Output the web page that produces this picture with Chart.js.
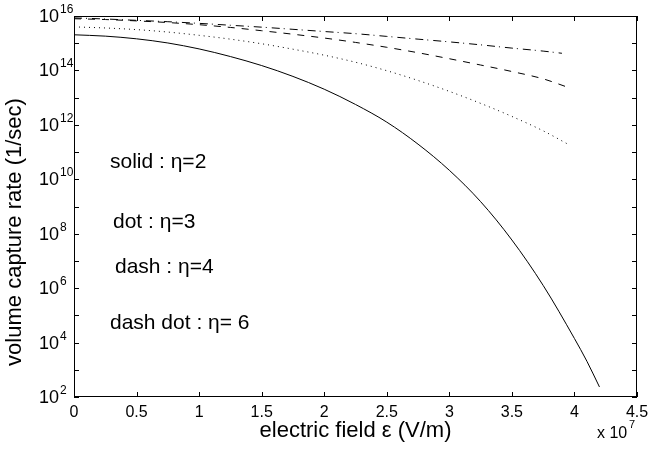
<!DOCTYPE html>
<html>
<head>
<meta charset="utf-8">
<script src="https://cdn.jsdelivr.net/npm/chart.js@4/dist/chart.umd.min.js"></script>
<style>
  html, body { margin: 0; padding: 0; background: #fff; }
  #wrap { position: relative; width: 649px; height: 453px; }
</style>
</head>
<body>
<div id="wrap"><canvas id="captureChart"></canvas></div>
<script>
// electric field, in units of 1e7 V/m (axis shows "x 10^7")
const solidX = [0, 0.25, 0.5, 0.75, 1, 1.25, 1.5, 1.75, 2, 2.25, 2.5, 2.75, 3, 3.25, 3.5, 3.75, 4, 4.1, 4.2];
const solidY = [2.04e15, 1.82e15, 1.45e15, 1.02e15, 6.17e14, 3.24e14, 1.51e14, 6.03e13, 2.04e13, 5.62e12,
                1.26e12, 1.95e11, 2.14e10, 1.51e9, 5.89e7, 1.26e6, 1.41e4, 2.04e3, 234];

const dotX = [0, 0.25, 0.5, 0.75, 1, 1.25, 1.5, 1.75, 2, 2.25, 2.5, 2.75, 3, 3.25, 3.5, 3.75, 3.96];
const dotY = [3.98e15, 3.63e15, 3.16e15, 2.57e15, 1.95e15, 1.41e15, 9.55e14, 6.03e14, 3.63e14, 2.0e14,
              9.77e13, 4.27e13, 1.70e13, 6.17e12, 2.04e12, 6.03e11, 1.82e11];

const dashX = [0, 0.25, 0.5, 0.75, 1, 1.25, 1.5, 1.75, 2, 2.25, 2.5, 2.75, 3, 3.25, 3.5, 3.75, 3.96];
const dashY = [7.94e15, 7.41e15, 6.61e15, 5.75e15, 4.79e15, 3.80e15, 2.88e15, 2.14e15, 1.55e15, 1.07e15,
               7.08e14, 4.47e14, 2.69e14, 1.58e14, 9.12e13, 4.90e13, 2.29e13];

const dashDotX = [0, 0.25, 0.5, 0.75, 1, 1.25, 1.5, 1.75, 2, 2.25, 2.5, 2.75, 3, 3.25, 3.5, 3.75, 3.9];
const dashDotY = [8.51e15, 7.76e15, 6.92e15, 6.17e15, 5.37e15, 4.57e15, 3.89e15, 3.24e15, 2.69e15, 2.24e15,
                  1.78e15, 1.41e15, 1.12e15, 8.71e14, 6.61e14, 5.13e14, 4.27e14];

const xTicks = [0, 0.5, 1, 1.5, 2, 2.5, 3, 3.5, 4, 4.5];
const yTickPowers = [2, 3, 4, 5, 6, 7, 8, 9, 10, 11, 12, 13, 14, 15, 16];
const yLabelPowers = [2, 4, 6, 8, 10, 12, 14, 16];

const notes = ['solid : η=2', 'dot : η=3', 'dash : η=4', 'dash dot : η= 6'];

const FONT = '"Liberation Sans", Arial, sans-serif';

function pairs(xs, ys) {
  return xs.map((x, i) => ({ x: x, y: ys[i] }));
}

function lineSet(label, xs, ys, dash) {
  return {
    label: label,
    data: pairs(xs, ys),
    showLine: true,
    borderColor: '#000',
    borderWidth: 1,
    borderDash: dash,
    pointRadius: 0,
    cubicInterpolationMode: 'monotone',
    fill: false
  };
}

const decor = {
  id: 'decor',
  afterDraw(chart) {
    const ctx = chart.ctx;
    const xs = chart.scales.x, ys = chart.scales.y;
    const a = chart.chartArea;
    ctx.save();
    ctx.strokeStyle = '#000';
    ctx.fillStyle = '#000';
    ctx.lineWidth = 1;
    ctx.strokeRect(a.left + 0.5, a.top + 0.5, a.right - a.left - 1, a.bottom - a.top - 1);

    ctx.beginPath();
    xTicks.forEach(v => {
      const px = Math.round(xs.getPixelForValue(v)) + 0.5;
      ctx.moveTo(px, a.bottom); ctx.lineTo(px, a.bottom - 5);
      ctx.moveTo(px, a.top); ctx.lineTo(px, a.top + 5);
    });
    yTickPowers.forEach(p => {
      const py = Math.round(ys.getPixelForValue(Math.pow(10, p))) + 0.5;
      ctx.moveTo(a.left, py); ctx.lineTo(a.left + 5, py);
      ctx.moveTo(a.right, py); ctx.lineTo(a.right - 5, py);
    });
    ctx.stroke();

    // x tick labels
    ctx.font = '16px ' + FONT;
    ctx.textAlign = 'center';
    ctx.textBaseline = 'middle';
    xTicks.forEach(v => {
      ctx.fillText(String(v), xs.getPixelForValue(v), 413);
    });

    // y tick labels 10^p
    yLabelPowers.forEach(p => {
      const py = ys.getPixelForValue(Math.pow(10, p));
      ctx.font = '18px ' + FONT;
      ctx.textAlign = 'left';
      ctx.textBaseline = 'middle';
      ctx.fillText('10', 39, py + 1);
      const w = ctx.measureText('10').width;
      ctx.font = '12px ' + FONT;
      ctx.textBaseline = 'alphabetic';
      ctx.fillText(String(p), 39 + w + 1, py - 3);
    });

    // multiplier
    ctx.font = '16px ' + FONT;
    ctx.textAlign = 'left';
    ctx.textBaseline = 'alphabetic';
    ctx.fillText('x 10', 597, 438);
    ctx.font = '11px ' + FONT;
    ctx.fillText('7', 629, 428);

    // axis titles
    ctx.font = '22px ' + FONT;
    ctx.textAlign = 'center';
    ctx.textBaseline = 'middle';
    ctx.fillText('electric field ε (V/m)', (a.left + a.right) / 2, 431);
    ctx.save();
    ctx.translate(15, 232);
    ctx.rotate(-Math.PI / 2);
    ctx.fillText('volume capture rate (1/sec)', 0, 0);
    ctx.restore();

    // in-plot notes
    ctx.font = '21px ' + FONT;
    ctx.textAlign = 'left';
    ctx.textBaseline = 'middle';
    ctx.fillText(notes[0], 110, 162);
    ctx.fillText(notes[1], 113, 222);
    ctx.fillText(notes[2], 115, 267);
    ctx.fillText(notes[3], 110, 323);
    ctx.restore();
  }
};

new Chart(document.getElementById('captureChart'), {
  type: 'scatter',
  data: {
    datasets: [
      lineSet('solid', solidX, solidY, []),
      lineSet('dot', dotX, dotY, [1, 4]),
      lineSet('dash', dashX, dashY, [7, 7]),
      lineSet('dash dot', dashDotX, dashDotY, [8, 4, 1, 5])
    ]
  },
  options: {
    responsive: true,
    maintainAspectRatio: false,
    animation: false,
    layout: { padding: { top: 16, right: 12, left: 0, bottom: 0 } },
    plugins: { legend: { display: false }, tooltip: { enabled: false } },
    scales: {
      x: {
        type: 'linear',
        min: 0,
        max: 4.5,
        grid: { display: false, drawTicks: false },
        border: { display: false },
        ticks: { display: false },
        afterFit(scale) { scale.height = 56; }
      },
      y: {
        type: 'logarithmic',
        min: 1e2,
        max: 1e16,
        grid: { display: false, drawTicks: false },
        border: { display: false },
        ticks: { display: false },
        afterFit(scale) { scale.width = 74; }
      }
    }
  },
  plugins: [decor]
});
</script>
</body>
</html>
